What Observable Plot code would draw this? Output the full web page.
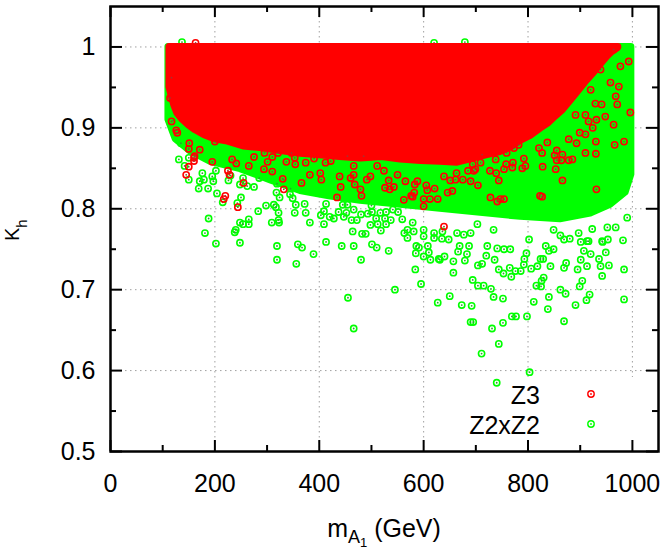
<!DOCTYPE html>
<html><head><meta charset="utf-8">
<script src="https://cdn.jsdelivr.net/npm/d3@7"></script>
<script src="https://cdn.jsdelivr.net/npm/@observablehq/plot@0.6"></script>
<style>body{margin:0;background:#fff} svg{display:block}</style>
</head><body><div id="chart"></div>
<script>
// ---- axes ----
const xTicks = [0, 200, 400, 600, 800, 1000];
const xMinor = [100, 300, 500, 700, 900];
const yTicks = [0.5, 0.6, 0.7, 0.8, 0.9, 1];
const yTickLabels = ["0.5", "0.6", "0.7", "0.8", "0.9", "1"];
const yMinor = [0.55, 0.65, 0.75, 0.85, 0.95];
const seriesNames = ["Z3", "Z2xZ2"];
const seriesColors = ["#ff0000", "#00ff00"];

// ---- dense (saturated) regions: lower envelope of the point cloud, top at kappa=1 ----
const denseTop = 1.0;
const z3DenseX   = [113, 117, 122, 128, 138, 150, 163, 180, 200, 225, 255, 287, 320, 364, 400, 440, 480, 520, 556, 595, 632, 665, 690, 720, 747, 768, 786, 805, 824, 840, 853, 867, 881, 895, 910, 925, 939, 952, 962, 973];
const z3DenseLow = [0.950, 0.940, 0.928, 0.918, 0.910, 0.903, 0.897, 0.891, 0.886, 0.883, 0.877, 0.875, 0.872, 0.868, 0.866, 0.864, 0.862, 0.864, 0.861, 0.859, 0.858, 0.857, 0.861, 0.866, 0.870, 0.876, 0.884, 0.890, 0.899, 0.906, 0.914, 0.922, 0.933, 0.944, 0.956, 0.967, 0.978, 0.988, 0.994, 0.999];
const z2DenseX   = [111, 125, 153, 192, 249, 307, 364, 422, 479, 556, 632, 709, 786, 862, 920, 958, 987, 998];
const z2DenseLow = [0.910, 0.886, 0.871, 0.858, 0.849, 0.835, 0.822, 0.815, 0.810, 0.805, 0.800, 0.795, 0.790, 0.787, 0.794, 0.805, 0.820, 0.842];

// ---- individual scattered points [mA1, kappa_h] ----
const z2Points = [
[188,0.788],[181,0.770],[202,0.757],[215,0.808],[243,0.807],[248,0.758],[240,0.774],[238,0.771],[248,0.783],[265,0.787],[265,0.781],[254,0.781],[283,0.797],[298,0.804],[309,0.783],[313,0.805],[317,0.802],[322,0.795],[322,0.786],[323,0.783],[319,0.754],[319,0.737],[353,0.795],[355,0.805],[359,0.756],[367,0.752],[356,0.732],[372,0.806],[374,0.795],[382,0.783],[389,0.744],[403,0.792],[409,0.797],[409,0.781],[413,0.759],[413,0.806],[420,0.790],[428,0.788],[437,0.796],[443,0.754],[447,0.790],[452,0.795],[455,0.690],[462,0.786],[464,0.772],[466,0.754],[466,0.652],[472,0.786],[480,0.793],[480,0.737],[482,0.769],[489,0.769],[493,0.794],[501,0.796],[501,0.756],[509,0.788],[510,0.752],[512,0.781],[518,0.773],[526,0.788],[528,0.781],[533,0.748],[537,0.786],[545,0.700],[528,0.796],[541,0.799],[551,0.796],[445,0.805],[454,0.805],[500,0.804],
[563,0.770],[569,0.764],[559,0.787],[579,0.783],[586,0.754],[584,0.725],[595,0.707],[600,0.741],[600,0.766],[610,0.746],[620,0.764],[627,0.684],[631,0.737],[635,0.763],[640,0.741],[648,0.762],[650,0.692],[657,0.735],[657,0.721],[666,0.747],[669,0.754],[673,0.681],[679,0.736],[683,0.744],[687,0.754],[692,0.680],[694,0.712],[690,0.660],[695,0.660],[704,0.730],[704,0.705],[712,0.732],[715,0.705],[711,0.621],[720,0.742],[722,0.754],[729,0.701],[731,0.652],[734,0.691],[736,0.737],[741,0.751],[744,0.725],[744,0.633],[752,0.689],[752,0.659],[753,0.720],[754,0.750],[765,0.727],[768,0.716],[769,0.667],[776,0.723],[777,0.667],[786,0.723],[793,0.738],[797,0.745],[798,0.667],[803,0.598],[806,0.726],[811,0.685],[816,0.705],[818,0.729],[825,0.704],[826,0.711],[830,0.715],[829,0.738],[838,0.676],[840,0.691],[843,0.729],[849,0.750],[862,0.700],[869,0.661],[869,0.727],[872,0.695],[873,0.733],[740,0.585],[891,0.681],[895,0.725],[899,0.704],[901,0.737],[904,0.711],[907,0.748],[912,0.687],[913,0.729],[918,0.694],[920,0.744],[923,0.775],[936,0.738],[939,0.729],[942,0.717],[943,0.759],[953,0.762],[949,0.746],[955,0.730],[982,0.761],[984,0.725],[984,0.688],[990,0.789],[901,0.759],[916,0.760],[869,0.762],[880,0.763],[862,0.767],
[131,0.861],[142,0.853],[150,0.836],[150,0.863],[135,0.881],[169,0.825],[171,0.834],[179,0.836],[176,0.844],[187,0.825],[195,0.840],[197,0.834],[202,0.847],[204,0.819],[226,0.835],[230,0.841],[248,0.830],[250,0.814],[254,0.838],[262,0.828],[275,0.827],[285,0.838],[318,0.820],[324,0.814],[319,0.831],[332,0.836],[344,0.818],[349,0.813],[345,0.825],
[466,0.799],[498,0.780],[585,0.745],[591,0.752],[608,0.754],[613,0.737],[629,0.738],[569,0.774],[581,0.772],[600,0.774],[620,0.770],[636,0.772],[664,0.770],[677,0.768],[690,0.770],[703,0.781],[517,0.795],
[734,0.774],[766,0.750],[792,0.731],[802,0.762],[824,0.738],[834,0.754],[840,0.748],[849,0.774],[897,0.770],[913,0.760],[942,0.760],[968,0.777],[952,0.777],
[137,1.006],[123,0.920],[120,0.909],[128,0.890],[620,1.005],[679,1.006]
];
const z3Points = [
[244,0.802],[217,0.812],[600,0.803],[639,0.778],[562,0.811],[741,0.809],
[117,0.908],[126,0.897],[128,0.894],[150,0.874],[151,0.881],[145,0.842],[150,0.852],[160,0.859],[160,0.863],[171,0.873],[195,0.858],[200,0.883],[225,0.847],[228,0.842],[220,0.816],[255,0.832],[233,0.861],[241,0.856],[265,0.853],[275,0.864],[295,0.869],[294,0.849],[301,0.858],[310,0.864],[310,0.846],[332,0.824],[337,0.858],[321,0.869],[353,0.863],[347,0.869],[330,0.837],
[354,0.855],[366,0.832],[374,0.857],[382,0.842],[402,0.844],[404,0.836],[412,0.857],[434,0.814],[439,0.840],[441,0.827],[460,0.838],[466,0.853],[466,0.842],[468,0.830],[479,0.824],[481,0.816],[491,0.836],[498,0.840],[524,0.847],[526,0.826],[533,0.835],[535,0.824],[543,0.827],[550,0.842],[565,0.834],[576,0.816],[579,0.815],[582,0.820],[588,0.834],[583,0.830],[605,0.829],[607,0.823],[600,0.812],[612,0.812],[621,0.825],[627,0.812],[646,0.820],[651,0.835],[655,0.822],[661,0.836],[675,0.836],[685,0.847],[690,0.834],[699,0.849],[694,0.855],[663,0.844],[639,0.840],[422,0.859],[390,0.862],[454,0.865],[485,0.865],[511,0.853],
[696,0.847],[704,0.829],[728,0.814],[754,0.812],[744,0.835],[727,0.847],[739,0.844],[754,0.849],[758,0.855],[770,0.851],[771,0.857],[789,0.850],[795,0.853],[792,0.862],[823,0.816],[827,0.815],[828,0.852],[853,0.849],[851,0.866],[866,0.835],[855,0.860],[864,0.860],[878,0.860],[885,0.861],[910,0.869],[930,0.868],[930,0.883],[931,0.824],[966,0.879],[984,0.883],[878,0.886],[893,0.881],[899,0.894],[910,0.892],[924,0.900],[964,0.904],[948,0.914],[931,0.910],[916,0.908],[891,0.916],[910,0.916],[996,0.919],[971,0.929],[941,0.929],[929,0.930],[837,0.882],[821,0.875],[827,0.869],[866,0.867],[855,0.872],[773,0.875],[782,0.879],[759,0.869],[738,0.861],[709,0.857],[712,0.867],
[114,0.937],[117,0.962],[161,0.865],[163,1.005],
[964,0.997],[993,0.982],[977,0.976],[958,0.956],[974,0.951],[968,0.939],[939,0.972],[920,0.947],[747,0.812]
];

// ---- build ----
const W = 668, H = 551, mL = 110, mR = 10, mT = 6, mB = 100;
const pw = W - mL - mR, ph = H - mT - mB;
const FONT = "'Liberation Sans', Arial, Helvetica, sans-serif";
const z3Area = z3DenseX.map((x, i) => ({x, y1: z3DenseLow[i], y2: denseTop}));
const z2Area = z2DenseX.map((x, i) => ({x, y1: z2DenseLow[i], y2: denseTop}));
const [red, green] = seriesColors;
const gridStyle = {stroke: "#a0a0a0", strokeOpacity: 1, strokeWidth: 1, strokeDasharray: "1.5,3.5"};

function cloud(area, pts, color, center) {
  return [
    Plot.areaY(area, {x: "x", y1: "y1", y2: "y2", fill: color, stroke: color, strokeWidth: 7, strokeLinejoin: "round"}),
    Plot.dot(pts, {x: d => d[0], y: d => d[1], r: 3.1, stroke: color, strokeWidth: 1.6, fill: "none"}),
    Plot.dot(pts, {x: d => d[0], y: d => d[1], r: 0.9, fill: center, stroke: "none"})
  ];
}

const plot = Plot.plot({
  width: W, height: H,
  marginLeft: mL, marginRight: mR, marginTop: mT, marginBottom: mB,
  style: {fontFamily: FONT, background: "#fff", color: "black"},
  x: {domain: [0, 1050]},
  y: {domain: [0.5, 1.05]},
  marks: [
    Plot.gridX({ticks: xTicks.filter(d => d > 0), ...gridStyle}),
    Plot.gridY({ticks: yTicks.filter(d => d > 0.5), ...gridStyle}),
    ...cloud(z2Area, z2Points, green, "#2e9e2e"),
    ...cloud(z3Area, z3Points, red, "#a83030"),
    // inward ticks, mirrored on all four sides
    Plot.tickX(xTicks, {x: d => d, stroke: "black", strokeWidth: 2, insetTop: ph - 11}),
    Plot.tickX(xTicks, {x: d => d, stroke: "black", strokeWidth: 2, insetBottom: ph - 11}),
    Plot.tickX(xMinor, {x: d => d, stroke: "black", strokeWidth: 2, insetTop: ph - 6}),
    Plot.tickX(xMinor, {x: d => d, stroke: "black", strokeWidth: 2, insetBottom: ph - 6}),
    Plot.tickY(yTicks, {y: d => d, stroke: "black", strokeWidth: 2, insetRight: pw - 12}),
    Plot.tickY(yTicks, {y: d => d, stroke: "black", strokeWidth: 2, insetLeft: pw - 12}),
    Plot.tickY(yMinor, {y: d => d, stroke: "black", strokeWidth: 2, insetRight: pw - 6}),
    Plot.tickY(yMinor, {y: d => d, stroke: "black", strokeWidth: 2, insetLeft: pw - 6}),
    Plot.frame({stroke: "black", strokeWidth: 2.5}),
    Plot.axisX({ticks: xTicks, tickSize: 0, tickPadding: 23, fontSize: 25, label: null, tickFormat: d => String(d)}),
    Plot.axisY({ticks: yTicks, tickSize: 0, tickPadding: 15, fontSize: 25, label: null, tickFormat: d => yTickLabels[yTicks.indexOf(d)]})
  ]
});
document.getElementById("chart").appendChild(plot);

// ---- key box (opaque, hides the grid behind it), legend, axis titles ----
const svg = d3.select(plot);
const yGrid = plot.querySelector('[aria-label="y-grid"]');
if (yGrid) {
  const bg = document.createElementNS("http://www.w3.org/2000/svg", "rect");
  bg.setAttribute("x", 455); bg.setAttribute("y", 377);
  bg.setAttribute("width", 195); bg.setAttribute("height", 72);
  bg.setAttribute("fill", "#fff");
  yGrid.parentNode.insertBefore(bg, yGrid.nextSibling);
}
const legend = svg.append("g").attr("font-family", FONT).attr("font-size", 25).attr("fill", "black");
seriesNames.forEach((name, i) => {
  const yy = 394 + i * 30;
  legend.append("text").attr("x", 540).attr("y", yy + 10).attr("text-anchor", "end").text(name);
  legend.append("circle").attr("cx", 591).attr("cy", yy).attr("r", 3.2)
    .attr("fill", "#fff").attr("stroke", seriesColors[i]).attr("stroke-width", 1.4);
  legend.append("circle").attr("cx", 591).attr("cy", yy).attr("r", 0.9).attr("fill", seriesColors[i]);
});

const xl = svg.append("text").attr("x", 384).attr("y", 537).attr("text-anchor", "middle")
  .attr("font-family", FONT).attr("font-size", 25).attr("fill", "black").style("white-space", "pre");
xl.append("tspan").text("m");
xl.append("tspan").attr("font-size", 18).attr("dy", 6).text("A");
xl.append("tspan").attr("font-size", 13).attr("dy", 4).text("1");
xl.append("tspan").attr("dy", -10).text(" (GeV)");

const yl = svg.append("text").attr("transform", "translate(19,241) rotate(-90)").attr("text-anchor", "start")
  .attr("font-family", FONT).attr("font-size", 20).attr("fill", "black");
yl.append("tspan").text("K");
yl.append("tspan").attr("font-size", 15).attr("dy", 8).text("h");
</script>
</body></html>
